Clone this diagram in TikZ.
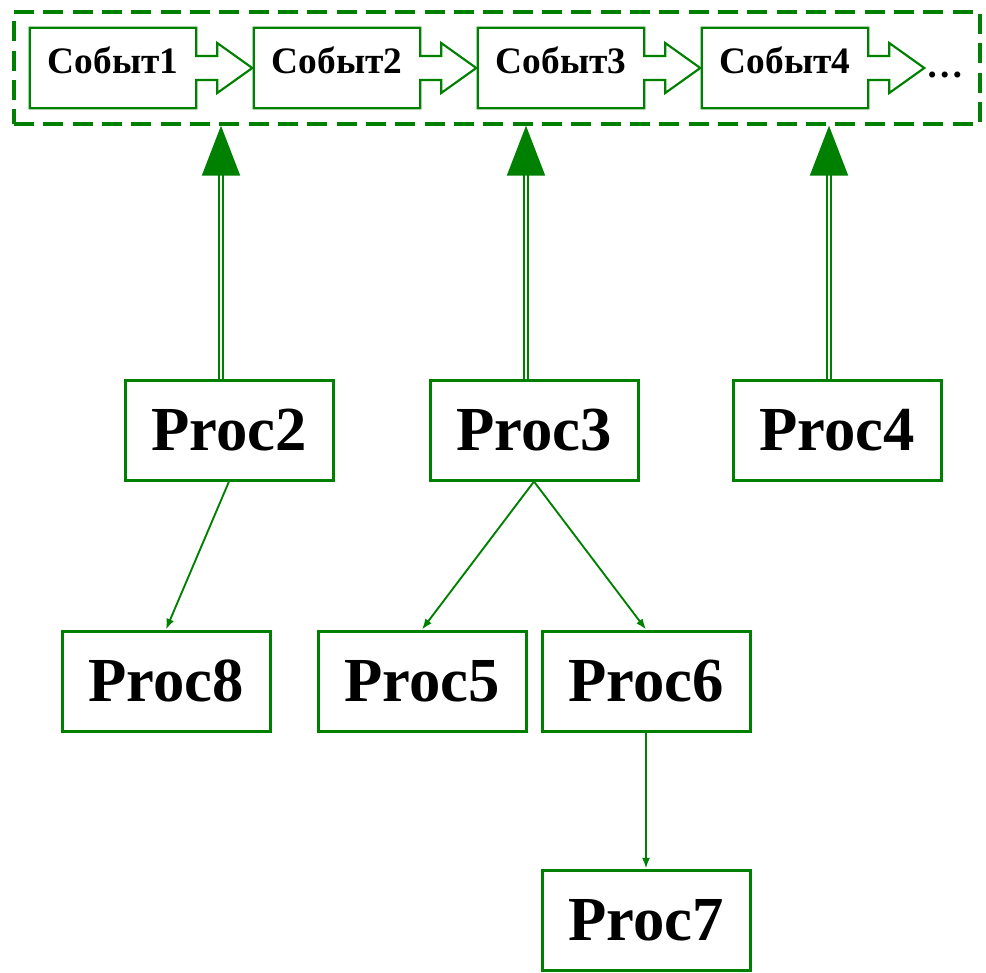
\documentclass[tikz,border=0pt]{standalone}
\usepackage{fontspec}
\setmainfont{Liberation Serif}
\usetikzlibrary{positioning,calc,arrows.meta}
\definecolor{procgreen}{RGB}{0,128,0}
\tikzset{event/.style={minimum width=124.5pt,minimum height=60pt,inner sep=0pt,text depth=12pt,font=\fontsize{28}{30}\selectfont\bfseries},
         evline/.style={draw=procgreen,line width=1.6pt},
         proc/.style={draw=procgreen,line width=2.25pt,minimum width=156pt,minimum height=75pt,inner sep=0pt,font=\fontsize{47}{50}\selectfont\bfseries},
         queuebox/.style={draw=procgreen,line width=2.5pt,dash pattern=on 15pt off 7pt,minimum width=724.5pt,minimum height=84pt,inner sep=0pt},
         line/.style={draw=procgreen,line width=1.4pt,-{Latex[length=8pt,width=6pt]}}
}
\tikzstyle{bigarrow} = [draw=procgreen,line width=1.5pt,double=white,double distance=1.5pt,-{Triangle[length=37.5pt,width=28.5pt]}]

\begin{document}
\begin{tikzpicture}[x=0.75pt,y=-0.75pt]
\useasboundingbox (0,0) rectangle (986,972);

% event queue
\node[queuebox] (queue) at (497,68) {};
\node[event] (ev1) at (113,68) {Событ1};
\node[event] (ev2) at (337,68) {Событ2};
\node[event] (ev3) at (561,68) {Событ3};
\node[event] (ev4) at (785,68) {Событ4};
\foreach \i in {1,...,4}
  \draw[evline] (ev\i.north west) -- (ev\i.north east) -- ($(ev\i.east)+(0,-12)$) -- ++(21,0) -- ++(0,-13)
    -- ($(ev\i.east)+(56,0)$) -- ++(-35,25) -- ++(0,-13) -- ++(-21,0) -- (ev\i.south east) -- (ev\i.south west) -- cycle;
\node[anchor=base west,inner sep=0pt,font=\fontsize{28}{30}\selectfont\bfseries] (dots) at ($(ev4.east)+(58,9)$) {…};

% processes
\node[proc] (p2) at (229,430) {Proc2};
\node[proc] (p3) at (534,430) {Proc3};
\node[proc] (p4) at (837,430) {Proc4};
\node[proc] (p8) at (166,681) {Proc8};
\node[proc] (p5) at (422,681) {Proc5};
\node[proc] (p6) at (646,681) {Proc6};
\node[proc] (p7) at (646,920) {Proc7};

% notifications to the queue
\foreach \p in {2,3,4}{
  \coordinate (a\p) at ($(p\p.north)+(-8,0)$);
  \draw[bigarrow] (a\p) -- (a\p |- queue.south);
}

% children
\draw[line] (p2.south) -- (p8.north);
\draw[line] (p3.south) -- (p5.north);
\draw[line] (p3.south) -- (p6.north);
\draw[line] (p6.south) -- (p7.north);

\end{tikzpicture}
\end{document}
